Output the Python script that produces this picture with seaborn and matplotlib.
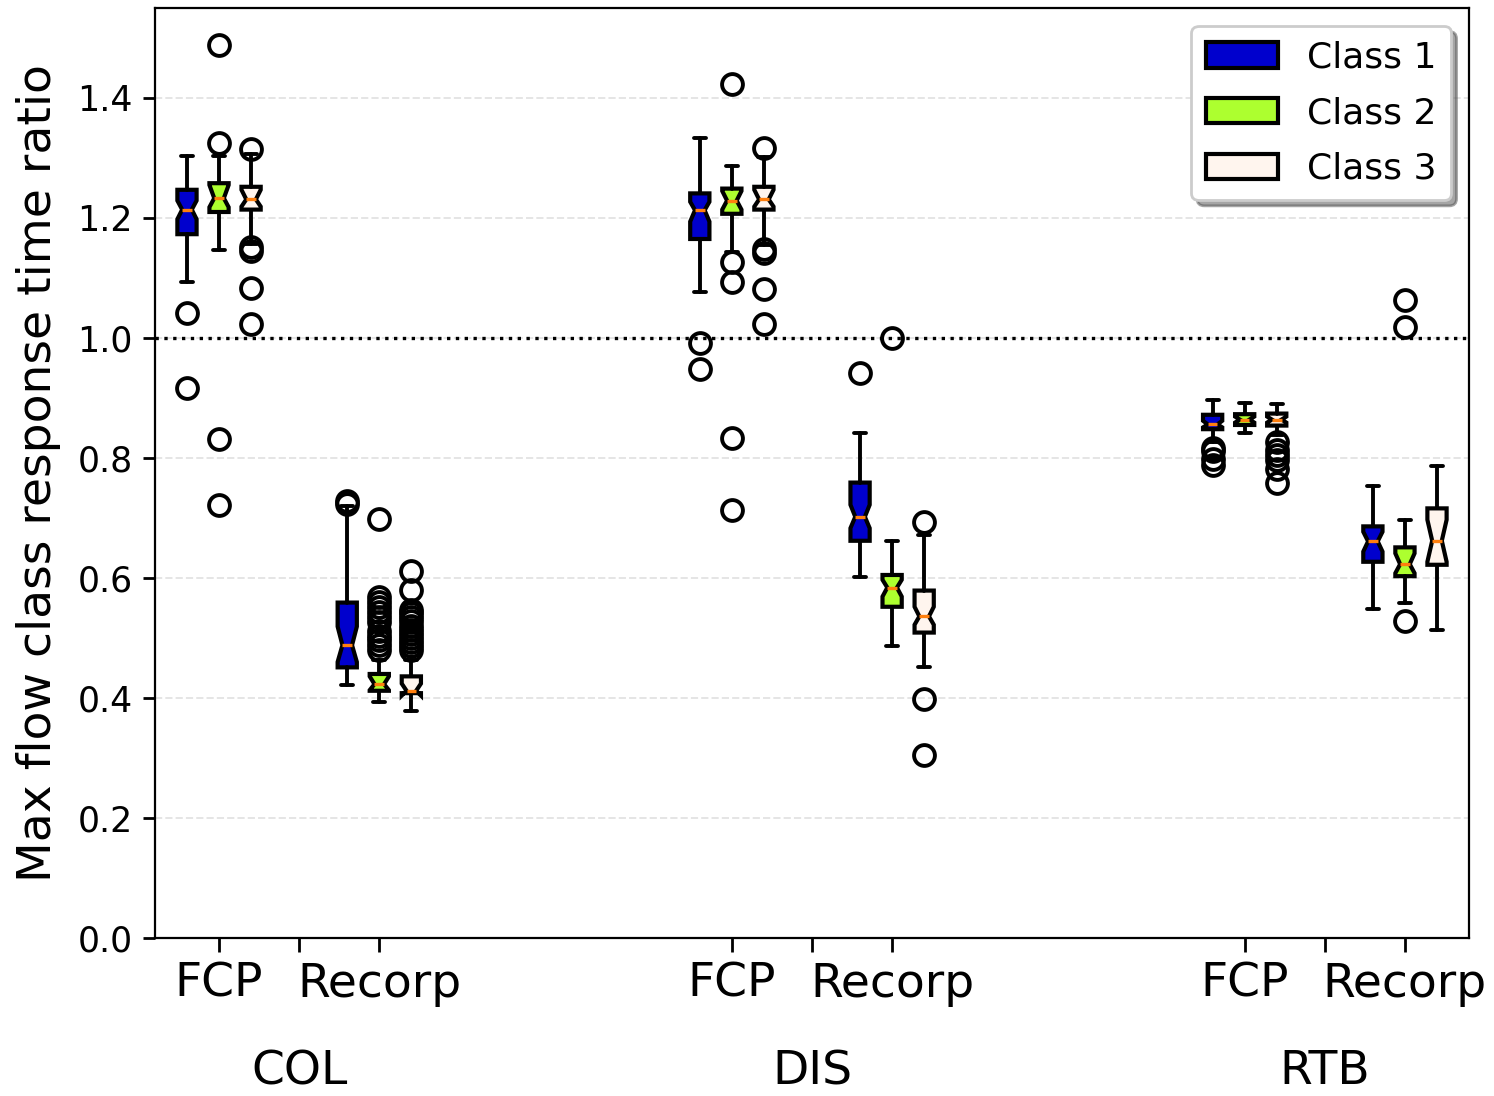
import numpy as np
import matplotlib.pyplot as plt
from matplotlib.patches import Patch
from matplotlib.transforms import blended_transform_factory
import seaborn as sns

groups = ["COL", "DIS", "RTB"]
methods = ["FCP", "Recorp"]
classes = ["Class 1", "Class 2", "Class 3"]
class_colors = ["#0000CD", "#ADFF2F", "#FFF5EE"]

# box order: group -> method -> class
medians = [1.214, 1.233, 1.231, 0.488, 0.423, 0.412,
           1.213, 1.229, 1.231, 0.702, 0.584, 0.536,
           0.856, 0.864, 0.864, 0.661, 0.623, 0.662]
q1 = [1.173, 1.210, 1.214, 0.451, 0.412, 0.408,
      1.165, 1.207, 1.214, 0.662, 0.552, 0.509,
      0.848, 0.855, 0.854, 0.627, 0.603, 0.622]
q3 = [1.247, 1.258, 1.252, 0.559, 0.440, 0.436,
      1.241, 1.249, 1.252, 0.759, 0.605, 0.579,
      0.872, 0.873, 0.874, 0.686, 0.651, 0.716]
whis_lo = [1.094, 1.146, 1.157, 0.422, 0.394, 0.379,
           1.077, 1.143, 1.155, 0.601, 0.486, 0.451,
           0.827, 0.842, 0.838, 0.548, 0.558, 0.513]
whis_hi = [1.304, 1.304, 1.306, 0.720, 0.463, 0.463,
           1.333, 1.287, 1.302, 0.842, 0.662, 0.672,
           0.897, 0.892, 0.890, 0.753, 0.697, 0.787]
ci_lo = [1.198, 1.218, 1.219, 0.460, 0.413, 0.404,
         1.194, 1.214, 1.219, 0.683, 0.569, 0.522,
         0.851, 0.859, 0.859, 0.644, 0.608, 0.627]
ci_hi = [1.229, 1.255, 1.247, 0.519, 0.436, 0.424,
         1.227, 1.245, 1.247, 0.722, 0.597, 0.552,
         0.862, 0.869, 0.869, 0.677, 0.641, 0.697]
fliers = [
    [1.041, 0.916],
    [1.488, 1.325, 0.832, 0.721],
    [1.315, 1.152, 1.145, 1.083, 1.024],
    [0.729, 0.724],
    [0.698, 0.569, 0.560, 0.551, 0.543, 0.535, 0.527, 0.512, 0.503, 0.497, 0.488, 0.480],
    [0.611, 0.580, 0.547, 0.542, 0.535, 0.528, 0.520, 0.514, 0.506, 0.500, 0.493, 0.486, 0.480],
    [0.991, 0.948],
    [1.423, 1.126, 1.094, 0.833, 0.713],
    [1.316, 1.149, 1.141, 1.081, 1.024],
    [0.941],
    [1.000],
    [0.693, 0.398, 0.305],
    [0.816, 0.811, 0.799, 0.788],
    [],
    [0.827, 0.813, 0.805, 0.797, 0.781, 0.758],
    [],
    [1.063, 1.018, 0.529],
    [],
]

sns.set_style("ticks", {"axes.edgecolor": "black", "xtick.color": "black",
                        "ytick.color": "black", "text.color": "black",
                        "axes.labelcolor": "black"})
plt.rcParams["font.family"] = ["DejaVu Sans"]

fig, ax = plt.subplots(figsize=(7.47, 5.48), dpi=200)
fig.subplots_adjust(left=0.1037, right=0.9833, top=0.9927, bottom=0.1442)

stats, positions, colors = [], [], []
i = 0
for g in range(len(groups)):
    for m in range(len(methods)):
        for c in range(len(classes)):
            stats.append(dict(med=medians[i], q1=q1[i], q3=q3[i],
                              whislo=whis_lo[i], whishi=whis_hi[i],
                              cilo=ci_lo[i], cihi=ci_hi[i],
                              fliers=np.array(fliers[i])))
            positions.append(16 * g + 5 * m + c + 1)
            colors.append(class_colors[c])
            i += 1

ax.yaxis.grid(True, ls="--", color="lightgray", alpha=0.6, lw=0.7)
ax.axhline(1.0, color="black", ls=":", lw=1.2, zorder=1)

bp = ax.bxp(stats, positions=positions, widths=0.6, capwidths=0.38,
            shownotches=True, patch_artist=True, manage_ticks=False,
            boxprops=dict(edgecolor="black", linewidth=1.5),
            whiskerprops=dict(color="black", linewidth=1.4),
            capprops=dict(color="black", linewidth=1.4),
            medianprops=dict(color="#ff7f0e", linewidth=1.2),
            flierprops=dict(marker="o", markerfacecolor="none",
                            markeredgecolor="black", markersize=7.5,
                            markeredgewidth=1.4),
            zorder=3)
for patch, col in zip(bp["boxes"], colors):
    patch.set_facecolor(col)

ax.set_xlim(0, 41)
ax.set_ylim(0, 1.55)
ax.set_yticks(np.arange(0, 1.41, 0.2))
ax.tick_params(axis="y", labelsize=12.5, length=4.5, width=1)

tick_pos = [16 * g + 5 * m + 2 for g in range(3) for m in range(2)]
ax.set_xticks(tick_pos)
ax.set_xticklabels(methods * 3, fontsize=17)
ax.set_xticks([16 * g + 4.5 for g in range(3)], minor=True)
ax.tick_params(axis="x", which="both", length=5, width=1)

trans = blended_transform_factory(ax.transData, ax.transAxes)
for g, name in enumerate(groups):
    ax.text(16 * g + 4.5, -0.144, name, transform=trans,
            ha="center", va="center", fontsize=17)

ax.set_ylabel("Max flow class response time ratio", fontsize=17, labelpad=6)

handles = [Patch(facecolor=col, edgecolor="black", linewidth=1.5, label=lab)
           for col, lab in zip(class_colors, classes)]
ax.legend(handles=handles, loc="upper right", fontsize=13, shadow=True,
          fancybox=True, framealpha=1, labelspacing=0.6)

fig.savefig("out.png", dpi=200)
